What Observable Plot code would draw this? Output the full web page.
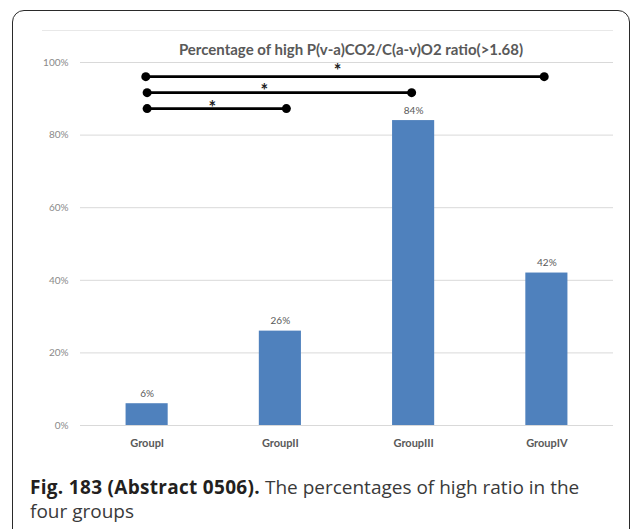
<!DOCTYPE html>
<html>
<head>
<meta charset="utf-8">
<script src="https://cdn.jsdelivr.net/npm/d3@7"></script>
<script src="https://cdn.jsdelivr.net/npm/@observablehq/plot@0.6"></script>
<style>
  html, body { margin: 0; padding: 0; background: #fff; width: 632px; height: 529px; overflow: hidden; }
  #frame { position: absolute; left: 12px; top: 10px; width: 618px; height: 600px;
           border: 1.5px solid #2a2a2a; border-radius: 12px; box-sizing: border-box; }
  #topline { position: absolute; left: 42px; top: 30px; width: 571px; height: 1px; background: #e8e8e8; }
  #chart { position: absolute; left: 0; top: 0; }
  #caption { position: absolute; left: 30px; top: 475px; width: 600px; white-space: nowrap;
             font-family: "Open Sans", sans-serif; font-size: 19px; line-height: 24px; color: #3a3a3a; }
  #caption b { color: #231f20; font-weight: 700; letter-spacing: 0.3px; }
</style>
</head>
<body>
<div id="frame"></div>
<div id="topline"></div>
<div id="chart"></div>
<div id="caption"><b>Fig. 183 (Abstract 0506).</b> The percentages of high ratio in the<br>four groups</div>
<script>
const chartTitle = "Percentage of high P(v-a)CO2/C(a-v)O2 ratio(>1.68)";
const categories = ["GroupI", "GroupII", "GroupIII", "GroupIV"];
const percentages = [6, 26, 84, 42];
const yTicks = [0, 20, 40, 60, 80, 100];
// significance brackets (x in category index units, y in %)
const bracketFrom = [-0.01, 0, 0];
const bracketTo = [2.98, 1.985, 1.045];
const bracketY = [96.1, 91.7, 87.3];
const starX = [1.43, 0.88, 0.49];
const starY = [98.3, 92.8, 88.2];

const bars = categories.map((c, i) => ({i, c, p: percentages[i]}));
const brackets = bracketY.map((y, k) => ({from: bracketFrom[k], to: bracketTo[k], y}));
const ends = brackets.flatMap(b => [{x: b.from, y: b.y}, {x: b.to, y: b.y}]);
const stars = starX.map((x, k) => ({x, y: starY[k]}));
const half = 0.158;

const plot = Plot.plot({
  width: 632,
  height: 470,
  marginLeft: 80,
  marginRight: 19,
  marginTop: 62,
  marginBottom: 45,
  style: {fontFamily: "Lato, sans-serif", background: "transparent"},
  x: {domain: [-0.5, 3.5], axis: null},
  y: {domain: [0, 100], axis: null},
  marks: [
    Plot.gridY(yTicks, {stroke: "#d9d9d9", strokeOpacity: 1}),
    Plot.axisY({ticks: yTicks, tickFormat: d => d + "%", tickSize: 0, tickPadding: 12,
                fontSize: 10, fill: "#8a8a8a"}),
    Plot.axisX({ticks: [0, 1, 2, 3], tickFormat: i => categories[i], tickSize: 0, tickPadding: 14,
                fontSize: 11, fontWeight: "bold", fill: "#595959"}),
    Plot.rectY(bars, {x1: d => d.i - half, x2: d => d.i + half, y1: 0, y2: "p", fill: "#4f81bd"}),
    Plot.text(bars, {x: "i", y: "p", text: d => d.p + "%", dy: -10, fontSize: 10, fill: "#595959"}),
    Plot.link(brackets, {x1: "from", x2: "to", y1: "y", y2: "y", stroke: "#000", strokeWidth: 2.8}),
    Plot.dot(ends, {x: "x", y: "y", r: 4.5, fill: "#000"}),
    Plot.text(stars, {x: "x", y: "y", text: () => "*", fontSize: 18, fontWeight: "bold", fill: "#222", dy: 3}),
    Plot.text([chartTitle], {frameAnchor: "top", dy: -18, dx: 4, text: d => d, fontSize: 15,
                              fontWeight: "bold", fill: "#595959"})
  ]
});
document.getElementById("chart").appendChild(plot);
</script>
</body>
</html>
